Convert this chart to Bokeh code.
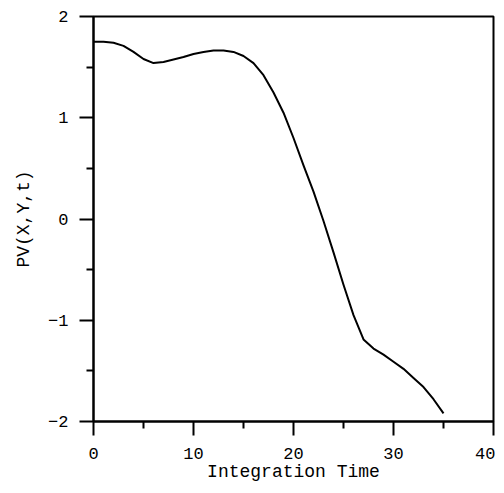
from bokeh.plotting import figure
from bokeh.models import Range1d, FixedTicker
from bokeh.embed import file_html
from bokeh.resources import INLINE

t_vals = [0, 1, 2, 3, 4, 5, 6, 7, 8, 9, 10, 11, 12, 13, 14, 15, 16, 17, 18,
          19, 20, 21, 22, 23, 24, 25, 26, 27, 28, 29, 30, 31, 32, 33, 34, 35]
pv_vals = [1.75, 1.75, 1.74, 1.71, 1.65, 1.58, 1.54, 1.55, 1.575, 1.60, 1.63,
           1.65, 1.665, 1.665, 1.65, 1.61, 1.54, 1.42, 1.25, 1.05, 0.80, 0.53,
           0.27, -0.02, -0.33, -0.65, -0.95, -1.19, -1.28, -1.34, -1.41, -1.48,
           -1.57, -1.66, -1.78, -1.92]
x_ticks = [0, 10, 20, 30, 40]
x_minor = [5, 15, 25, 35]
y_ticks = [-2, -1, 0, 1, 2]
y_minor = [-1.5, -0.5, 0.5, 1.5]

FONT = "Liberation Mono"

p = figure(frame_width=400, frame_height=405, output_backend="svg",
           toolbar_location=None,
           x_range=Range1d(0, 40), y_range=Range1d(-2, 2),
           min_border_left=93, min_border_right=2, min_border_top=16,
           min_border_bottom=60)
p.xgrid.visible = False
p.ygrid.visible = False
p.outline_line_color = "black"
p.outline_line_width = 2
p.outline_line_alpha = 1.0

p.line(t_vals, pv_vals, line_color="black", line_width=2, line_join="round")

p.xaxis.ticker = FixedTicker(ticks=x_ticks, minor_ticks=x_minor)
p.yaxis.ticker = FixedTicker(ticks=y_ticks, minor_ticks=y_minor)
for ax in (p.xaxis[0], p.yaxis[0]):
    ax.axis_line_color = "black"
    ax.axis_line_width = 2
    ax.major_tick_line_color = "black"
    ax.major_tick_line_width = 2
    ax.minor_tick_line_color = "black"
    ax.minor_tick_line_width = 2
    ax.major_tick_in = 0
    ax.major_tick_out = 14
    ax.minor_tick_in = 0
    ax.minor_tick_out = 7
    ax.major_label_text_font = FONT
    ax.major_label_text_font_size = "17px"
    ax.major_label_text_color = "black"
    ax.axis_label_text_font = FONT
    ax.axis_label_text_font_size = "18px"
    ax.axis_label_text_font_style = "normal"
    ax.axis_label_text_color = "black"

p.xaxis.axis_label = "Integration Time"
p.yaxis.axis_label = "PV(X,Y,t)"
p.xaxis.major_label_standoff = 12
p.yaxis.major_label_standoff = 11
p.xaxis.axis_label_standoff = 0
p.yaxis.axis_label_standoff = 11

open("out.html", "w").write(file_html(p, INLINE))
